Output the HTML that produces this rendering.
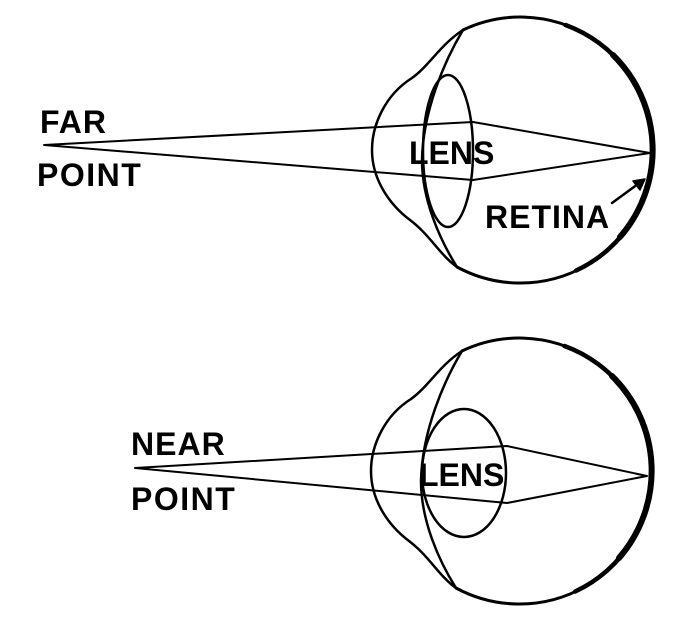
<!DOCTYPE html>
<html><head><style>
html,body{margin:0;padding:0;background:#fff}
svg{display:block}
text{font-family:"Liberation Sans",Arial,sans-serif;font-weight:bold;fill:#000}
</style></head><body>
<svg width="696" height="623" viewBox="0 0 696 623" xmlns="http://www.w3.org/2000/svg">
<defs>
<g id="eye" fill="none" stroke="#000" stroke-linecap="round" stroke-linejoin="round">
<path d="M463,30 A133,133 0 1 1 457,267" stroke-width="3"/>
<path d="M565.5,25 A133,133 0 0 1 576.2,270.5" stroke-width="4.5"/>
<path d="M613,55 A133,133 0 0 1 620,237" stroke-width="6"/>
<path d="M463,30 C440,45 430,65 412,78 C385,95 372,125 372,150 C372,180 390,205 410,220 C430,235 440,255 457,267" stroke-width="2.5"/>
<path d="M463,30 C445,60 423,110 422,160 C422,200 440,240 457,267" stroke-width="2.5"/>
</g>
</defs>
<use href="#eye"/>
<use href="#eye" transform="translate(-1,321)"/>
<g fill="none" stroke="#000" stroke-linecap="round" stroke-linejoin="round">
<ellipse cx="448" cy="151" rx="25" ry="76" stroke-width="2.5"/>
<path d="M44,145 L473,122 L650,153 L473,180 Z" stroke-width="2"/>
<path d="M612,203 L642,181" stroke-width="2.5"/>
<path d="M633,181 L645,179 L640,190 Z" fill="#000" stroke-width="1.5"/>
<ellipse cx="464" cy="473" rx="42" ry="64" stroke-width="2.5"/>
<path d="M135,468 L507,446 L647,476 L507,503 Z" stroke-width="2"/>
</g>
<text x="40" y="133" font-size="32" letter-spacing="1">FAR</text>
<text x="37" y="186" font-size="32" letter-spacing="1.5">POINT</text>
<text x="409" y="164" font-size="32">LENS</text>
<text x="485" y="228" font-size="32" letter-spacing="1">RETINA</text>
<text x="131" y="455" font-size="32" letter-spacing="1">NEAR</text>
<text x="131" y="510" font-size="32" letter-spacing="1.5">POINT</text>
<text x="419" y="486" font-size="32">LENS</text>
</svg>
</body></html>
